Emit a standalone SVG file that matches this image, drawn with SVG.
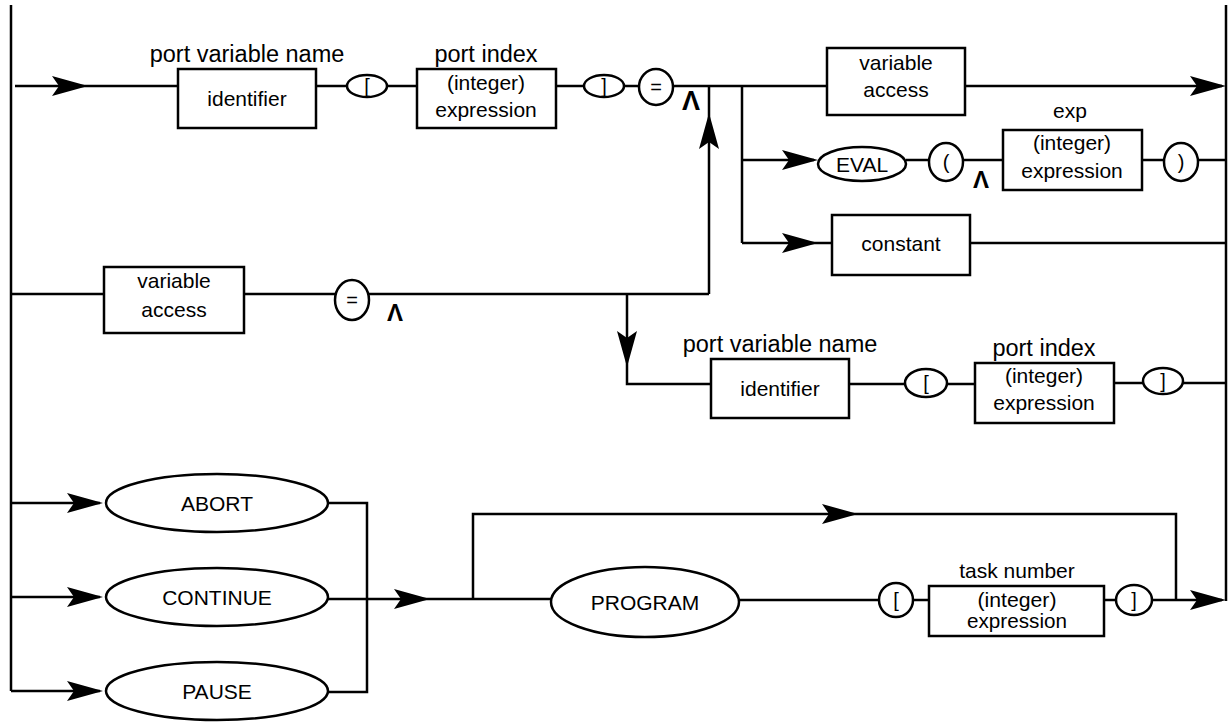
<svg xmlns="http://www.w3.org/2000/svg" xmlns:xlink="http://www.w3.org/1999/xlink" width="1232" height="723" viewBox="0 0 1232 723">
<style>
  .ln { fill: none; stroke: #000; stroke-width: 2.5; }
  .bx { fill: #fff; stroke: #000; stroke-width: 2.5; }
  .t { font-family: "Liberation Sans", Arial, sans-serif; font-size: 21px; fill: #000; text-anchor: middle; }
  .lb { font-family: "Liberation Sans", Arial, sans-serif; font-size: 23.5px; fill: #000; text-anchor: middle; }
  .sm { font-family: "Liberation Sans", Arial, sans-serif; font-size: 20px; fill: #000; text-anchor: middle; }
  .cr { font-family: "Liberation Sans", Arial, sans-serif; font-weight: bold; fill: #000; text-anchor: middle; }
  .ah { fill: #000; stroke: none; }
</style>
<defs>
  <path id="ah" class="ah" d="M0,0 L-36,-10 L-29,0 L-36,10 Z"/>
</defs>
<g id="connectors">
  <path class="ln" d="M11,5 V691"/>
  <path class="ln" d="M1226,5 V601"/>
  <path class="ln" d="M15,86 H178 M316,86 H347 M387,86 H417 M556,86 H584 M624,86 H639 M673,86 H827 M965,86 H1222"/>
  <path class="ln" d="M709,86 V294 M742,86 V243"/>
  <path class="ln" d="M742,160 H814 M906,160 H930 M963,160 H1003 M1142,160 H1164 M1198,160 H1226"/>
  <path class="ln" d="M742,243 H832 M970,243 H1226"/>
  <path class="ln" d="M11,294 H104 M244,294 H335 M369,294 H709"/>
  <path class="ln" d="M627,294 V384 H711 M849,384 H905 M947,384 H975 M1114,383 H1143 M1183,383 H1226"/>
  <path class="ln" d="M11,503 H100 M11,597 H100 M11,691 H100"/>
  <path class="ln" d="M328,503 H367 V692 H328 M328,599 H551"/>
  <path class="ln" d="M473,600 V514 H1176 V600"/>
  <path class="ln" d="M739,600 H879 M913,600 H929 M1104,600 H1116 M1152,600 H1222"/>
  <use xlink:href="#ah" href="#ah" transform="translate(88,86)"/>
  <use xlink:href="#ah" href="#ah" transform="translate(1226,86)"/>
  <use xlink:href="#ah" href="#ah" transform="translate(709,113) rotate(-90)"/>
  <use xlink:href="#ah" href="#ah" transform="translate(818,160)"/>
  <use xlink:href="#ah" href="#ah" transform="translate(818,243)"/>
  <use xlink:href="#ah" href="#ah" transform="translate(627,367) rotate(90)"/>
  <use xlink:href="#ah" href="#ah" transform="translate(103,503)"/>
  <use xlink:href="#ah" href="#ah" transform="translate(103,597)"/>
  <use xlink:href="#ah" href="#ah" transform="translate(103,691)"/>
  <use xlink:href="#ah" href="#ah" transform="translate(430,599)"/>
  <use xlink:href="#ah" href="#ah" transform="translate(858,514)"/>
  <use xlink:href="#ah" href="#ah" transform="translate(1226,600)"/>
</g>
<g id="carets">
  <text class="cr" x="691" y="110" font-size="27">Λ</text>
  <text class="cr" x="981" y="188" font-size="24">Λ</text>
  <text class="cr" x="395" y="321" font-size="24">Λ</text>
</g>
<g id="n-identifier-1">
  <text class="lb" x="247" y="62">port variable name</text>
  <rect class="bx" x="178" y="69" width="138" height="59"/>
  <text class="t" x="247" y="106">identifier</text>
</g>
<g id="n-lbracket-1">
  <ellipse class="bx" cx="367" cy="86" rx="20" ry="11"/>
  <text class="sm" x="367" y="93">[</text>
</g>
<g id="n-portindex-1">
  <text class="lb" x="486" y="62">port index</text>
  <rect class="bx" x="417" y="69" width="139" height="59"/>
  <text class="t" x="486" y="90">(integer)</text>
  <text class="t" x="486" y="117">expression</text>
</g>
<g id="n-rbracket-1">
  <ellipse class="bx" cx="604" cy="86" rx="20" ry="11"/>
  <text class="sm" x="604" y="93">]</text>
</g>
<g id="n-eq-1">
  <ellipse class="bx" cx="656" cy="87" rx="17" ry="18"/>
  <text class="sm" x="656" y="94">=</text>
</g>
<g id="n-varaccess-1">
  <rect class="bx" x="827" y="48" width="138" height="67"/>
  <text class="t" x="896" y="70">variable</text>
  <text class="t" x="896" y="97">access</text>
</g>
<g id="n-eval">
  <ellipse class="bx" cx="862" cy="164" rx="44" ry="17"/>
  <text class="t" x="862" y="172" font-size="20">EVAL</text>
</g>
<g id="n-lparen">
  <ellipse class="bx" cx="946" cy="162" rx="17" ry="19"/>
  <text class="sm" x="946" y="169">(</text>
</g>
<g id="n-exp">
  <text class="t" x="1070" y="118" font-size="22.5">exp</text>
  <rect class="bx" x="1003" y="130" width="139" height="60"/>
  <text class="t" x="1072" y="150">(integer)</text>
  <text class="t" x="1072" y="178">expression</text>
</g>
<g id="n-rparen">
  <ellipse class="bx" cx="1181" cy="162" rx="17" ry="19"/>
  <text class="sm" x="1181" y="169">)</text>
</g>
<g id="n-constant">
  <rect class="bx" x="832" y="215" width="138" height="60"/>
  <text class="t" x="901" y="251">constant</text>
</g>
<g id="n-varaccess-2">
  <rect class="bx" x="104" y="267" width="140" height="66"/>
  <text class="t" x="174" y="288">variable</text>
  <text class="t" x="174" y="317">access</text>
</g>
<g id="n-eq-2">
  <ellipse class="bx" cx="352" cy="300" rx="17" ry="20"/>
  <text class="sm" x="352" y="307">=</text>
</g>
<g id="n-identifier-2">
  <text class="lb" x="780" y="352">port variable name</text>
  <rect class="bx" x="711" y="359" width="138" height="59"/>
  <text class="t" x="780" y="396">identifier</text>
</g>
<g id="n-lbracket-2">
  <ellipse class="bx" cx="926" cy="383" rx="21" ry="14"/>
  <text class="sm" x="926" y="390">[</text>
</g>
<g id="n-portindex-2">
  <text class="lb" x="1044" y="356">port index</text>
  <rect class="bx" x="975" y="363" width="139" height="60"/>
  <text class="t" x="1044" y="383">(integer)</text>
  <text class="t" x="1044" y="410">expression</text>
</g>
<g id="n-rbracket-2">
  <ellipse class="bx" cx="1163" cy="381" rx="20" ry="13"/>
  <text class="sm" x="1163" y="388">]</text>
</g>
<g id="n-abort">
  <ellipse class="bx" cx="217" cy="503" rx="111" ry="29"/>
  <text class="t" x="217" y="511">ABORT</text>
</g>
<g id="n-continue">
  <ellipse class="bx" cx="217" cy="597" rx="111" ry="29"/>
  <text class="t" x="217" y="605">CONTINUE</text>
</g>
<g id="n-pause">
  <ellipse class="bx" cx="217" cy="691" rx="111" ry="29"/>
  <text class="t" x="217" y="699">PAUSE</text>
</g>
<g id="n-program">
  <ellipse class="bx" cx="645" cy="602" rx="94" ry="35"/>
  <text class="t" x="645" y="610">PROGRAM</text>
</g>
<g id="n-lbracket-3">
  <ellipse class="bx" cx="896" cy="600" rx="17" ry="17"/>
  <text class="sm" x="896" y="607">[</text>
</g>
<g id="n-task">
  <text class="t" x="1017" y="578">task number</text>
  <rect class="bx" x="929" y="586" width="175" height="50"/>
  <text class="t" x="1017" y="607" font-size="18.5" textLength="79" lengthAdjust="spacingAndGlyphs">(integer)</text>
  <text class="t" x="1017" y="628" font-size="18.5" textLength="100" lengthAdjust="spacingAndGlyphs">expression</text>
</g>
<g id="n-rbracket-3">
  <ellipse class="bx" cx="1134" cy="600" rx="18" ry="15"/>
  <text class="sm" x="1134" y="607">]</text>
</g>
</svg>
